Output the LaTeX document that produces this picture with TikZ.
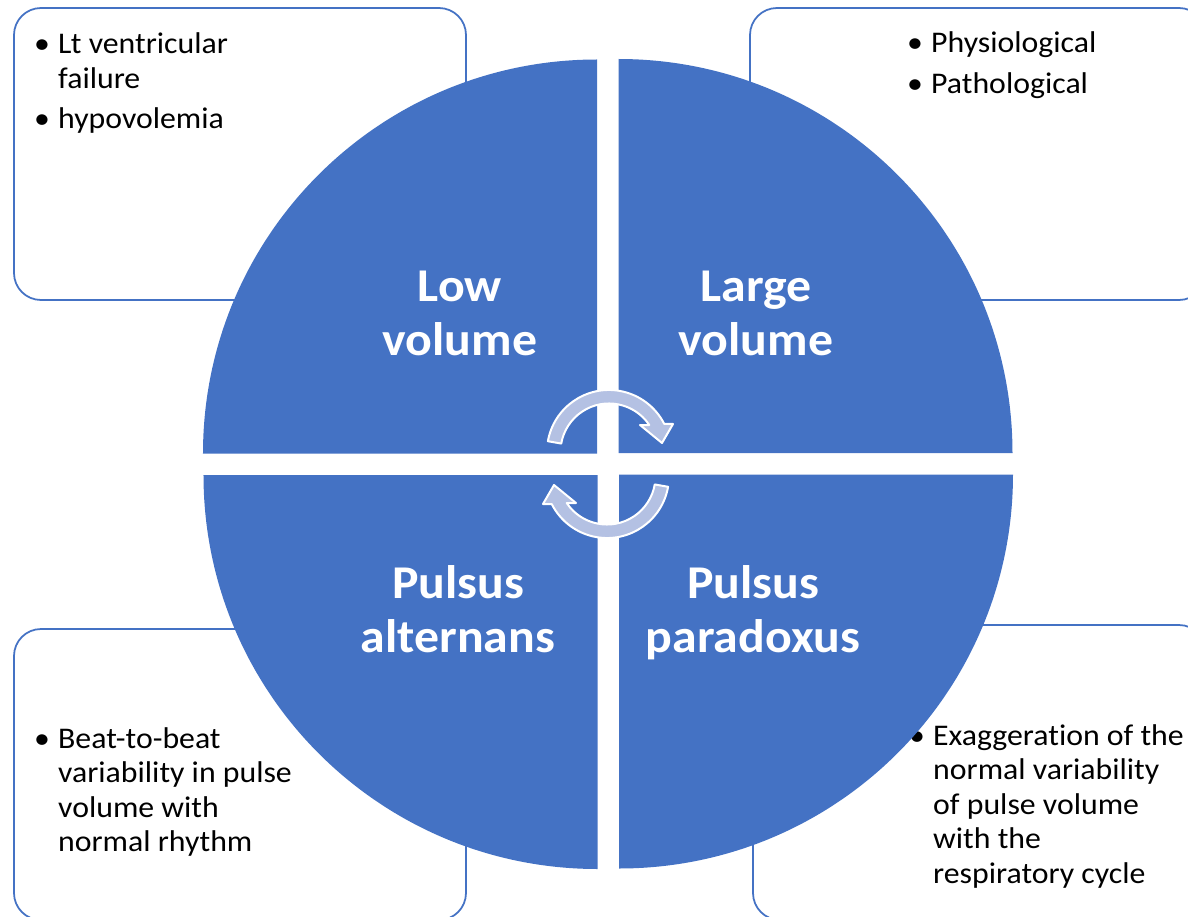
\documentclass[tikz,border=0pt]{standalone}
\usepackage{fontspec}
\setmainfont{Carlito}[FakeStretch=1.06, RawFeature=-liga]

\definecolor{qblue}{HTML}{4472C4}
\definecolor{qarrow}{HTML}{B4C1E3}

\tikzset{
  infobox/.style={draw=qblue, line width=1.75pt, rounded corners=27pt, fill=white},
  infotext/.style={anchor=base west, inner sep=0pt, font=\fontsize{30}{34.5}\selectfont},
  quad/.style={fill=qblue},
  quadlabel/.style={anchor=base, inner sep=0pt, text=white, font=\fontsize{47}{54}\selectfont\bfseries},
  cyclearrow/.style={fill=qarrow, draw=white, line width=2pt, line join=round}
}
\newcommand{\bul}{\makebox[24pt][l]{\textbullet}}
\newcommand{\ind}{\hspace*{24pt}}

\begin{document}
\begin{tikzpicture}[x=1pt,y=1pt]
  \useasboundingbox (-608,-452) rectangle (580,464);
  \clip (-608,-452) rectangle (580,464);

  % Boxes
  \draw[infobox] (-594,164) rectangle (-142,456);
  \draw[infobox] (142,164) rectangle (598,456);
  \draw[infobox] (-594,-456) rectangle (-142,-165);
  \draw[infobox] (145,-456) rectangle (598,-161);

  % Box texts
  \node[infotext] (low_txt) at (-574,410) {\begin{tabular}[t]{@{}l@{}}
    \bul Lt ventricular\\ \ind failure\\[6pt] \bul hypovolemia\end{tabular}};
  \node[infotext] (large_txt) at (299,411) {\begin{tabular}[t]{@{}l@{}}
    \bul Physiological\\[6pt] \bul Pathological\end{tabular}};
  \node[infotext] (alt_txt) at (-574,-284) {\begin{tabular}[t]{@{}l@{}}
    \bul Beat-to-beat\\ \ind variability in pulse\\ \ind volume with\\ \ind normal rhythm\end{tabular}};
  \node[infotext] (para_txt) at (301,-281) {\begin{tabular}[t]{@{}l@{}}
    \bul Exaggeration of the\\ \ind normal variability\\ \ind of pulse volume\\ \ind with the\\ \ind respiratory cycle\end{tabular}};

  % Quadrants
  \foreach \a in {0,90,180,270}
    \fill[quad, rotate=\a] (10.5,11) -- ++(394,0) arc[start angle=0, end angle=90, radius=394] -- cycle;

  % Labels
  \node[quadlabel] (low) at (-148,162) {\begin{tabular}[t]{@{}c@{}}Low\\volume\end{tabular}};
  \node[quadlabel] (large) at (148,162) {\begin{tabular}[t]{@{}c@{}}Large\\volume\end{tabular}};
  \node[quadlabel] (alternans) at (-150,-134) {\begin{tabular}[t]{@{}c@{}}Pulsus\\alternans\end{tabular}};
  \node[quadlabel] (paradoxus) at (145,-134) {\begin{tabular}[t]{@{}c@{}}Pulsus\\paradoxus\end{tabular}};

  % Arrows
  \foreach \r in {0,180}
    \draw[cyclearrow, rotate=\r] (-60.1,22.8) arc[start angle=170, end angle=26.9, radius=62]
      -- (65,40) -- (54,21) -- (32,39) -- (41.3,39)
      arc[start angle=33.8, end angle=170, radius=48.5] -- cycle;
\end{tikzpicture}
\end{document}
